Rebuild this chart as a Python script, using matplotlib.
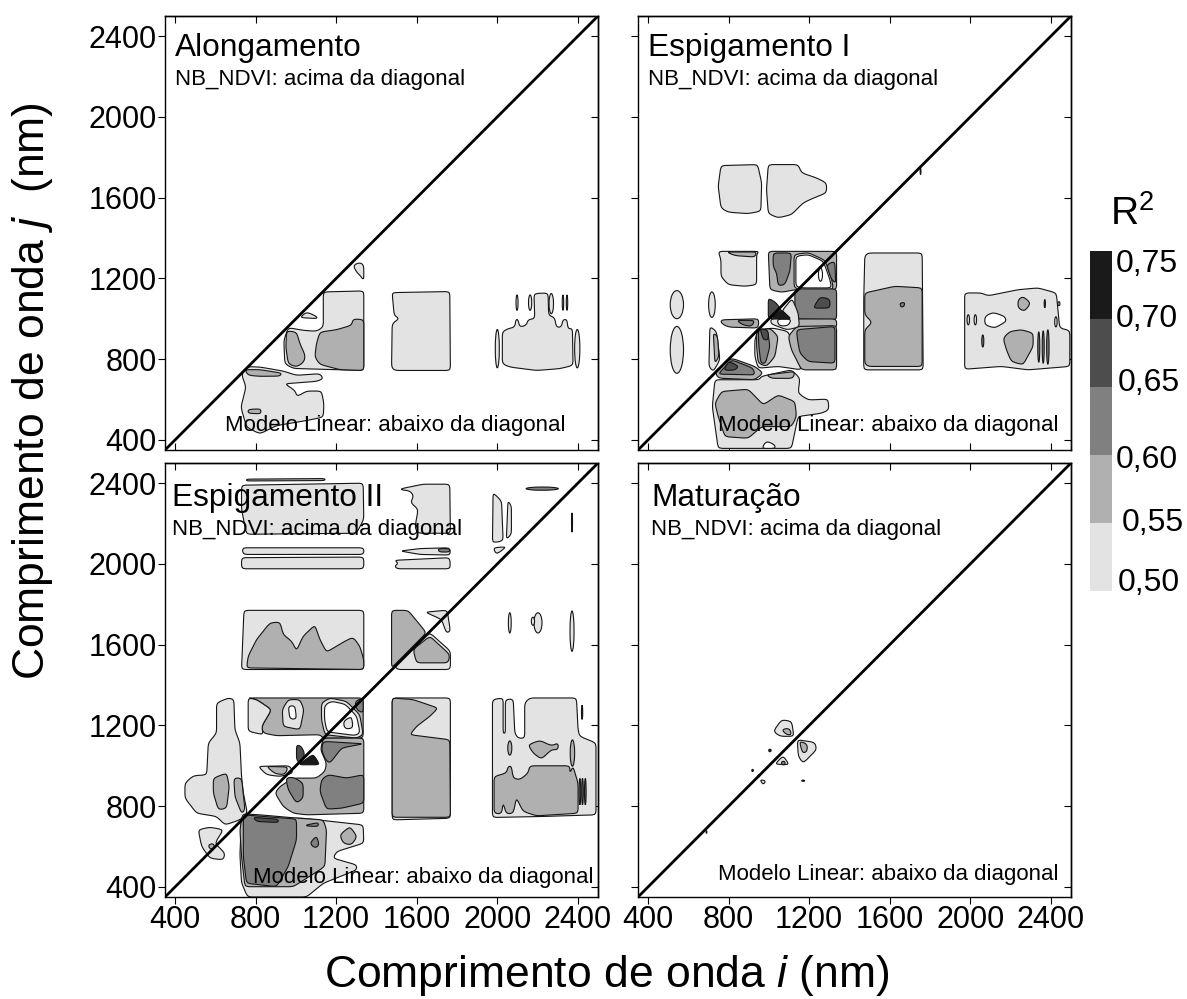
import matplotlib
matplotlib.use('Agg')
import matplotlib.pyplot as plt
from matplotlib.colors import BoundaryNorm, ListedColormap
from matplotlib.patches import Ellipse, Polygon

plt.rcParams['font.family'] = ['Liberation Sans', 'DejaVu Sans']
plt.rcParams['mathtext.fontset'] = 'custom'
plt.rcParams['mathtext.rm'] = 'Liberation Sans'
plt.rcParams['mathtext.it'] = 'Liberation Sans:italic'

W, H = 1187, 999

LEVELS = [0.50, 0.55, 0.60, 0.65, 0.70, 0.75]
LEVEL_COLORS = ['#e3e3e3', '#b0b0b0', '#808080', '#4d4d4d', '#1a1a1a']
WHITE = 0.45   # below the lowest level, holes inside the contours
TICKS = [400, 800, 1200, 1600, 2000, 2400]
TITLES = ['Alongamento', 'Espigamento I', 'Espigamento II', 'Maturação']

# contour outlines: (R2 level, [(i nm, j nm), ...]), painted in order
ALONG_SHAPES = [
    (0.50, [(1136, 1133), (1337, 1138), (1337, 744), (987, 754), (945, 777), (940, 893), (962, 956), (1036, 943), (1102, 938), (1136, 960)]),
    (0.55, [(1337, 996), (1284, 999), (1276, 968), (1202, 946), (1119, 934), (1102, 877), (1094, 811), (1119, 774), (1218, 748), (1337, 744)]),
    (0.55, [(954, 940), (950, 860), (962, 777), (1003, 761), (1040, 786), (1046, 819), (1020, 877), (1003, 934)]),
    (0.50, [(758, 763), (821, 761), (937, 741), (1003, 720), (1119, 728), (1136, 703), (1102, 690), (945, 678), (995, 645), (1006, 615), (1053, 642), (1127, 642), (1139, 579), (1136, 513), (1053, 496), (904, 471), (821, 430), (755, 463), (727, 562), (752, 662), (730, 725)]),
    (0.55, [(747, 748), (821, 748), (929, 731), (920, 716), (821, 715), (763, 720)]),
    (0.55, [(763, 551), (826, 554), (826, 529), (763, 532)]),
    (0.50, [(1020, 1006), (1053, 1034), (1102, 1012), (1105, 1001)]),
    (0.50, [(1284, 1265), (1317, 1279), (1337, 1265), (1337, 1191), (1317, 1216), (1301, 1232)]),
    (0.50, [(1478, 1125), (1491, 1130), (1764, 1135), (1767, 744), (1491, 744), (1475, 761), (1478, 976), (1513, 1001), (1488, 1017)]),
    (0.50, [(2025, 935), (2053, 951), (2087, 959), (2092, 996), (2103, 996), (2111, 959), (2144, 968), (2153, 996), (2186, 1001), (2182, 1125), (2252, 1128), (2255, 1017), (2285, 1006), (2293, 959), (2318, 959), (2326, 996), (2346, 996), (2351, 951), (2373, 951), (2376, 769), (2310, 753), (2194, 744), (2062, 761), (2025, 777)]),
]
ALONG_ELLIPSES = [
    (0.50, 2000, 852, 20, 190), (0.50, 2397, 852, 26, 190), (0.50, 2098, 1080, 10, 76),
    (0.50, 2163, 1080, 16, 76), (0.50, 2268, 1075, 22, 100), (0.50, 2326, 1080, 7, 76),
    (0.50, 2346, 1080, 7, 76),
]

ESPIG1_SHAPES = [
    (0.50, [(762, 1759), (944, 1764), (964, 1673), (960, 1533), (897, 1521), (798, 1528), (762, 1549), (748, 1657)]),
    (0.50, [(997, 1764), (1145, 1764), (1162, 1723), (1236, 1698), (1286, 1673), (1286, 1624), (1212, 1594), (1170, 1574), (1112, 1516), (1046, 1500), (997, 1521), (988, 1640)]),
    (0.50, [(748, 1334), (950, 1334), (939, 1318), (939, 1169), (881, 1161), (798, 1169), (762, 1210), (762, 1293)]),
    (0.55, [(790, 1331), (939, 1331), (930, 1306), (831, 1313)]),
    (0.55, [(997, 1334), (1336, 1334), (1336, 1144), (1129, 1144), (1063, 1131), (1005, 1144)]),
    (0.50, [(1125, 1318), (1195, 1328), (1278, 1290), (1312, 1194), (1320, 1145), (1155, 1145), (1125, 1155)]),
    (WHITE, [(1134, 1310), (1195, 1318), (1270, 1285), (1303, 1194), (1311, 1153), (1162, 1153), (1134, 1161)]),
    (0.60, [(1021, 1326), (1112, 1326), (1104, 1235), (1079, 1169), (1046, 1164), (1038, 1227), (1021, 1260)]),
    (0.60, [(1286, 1268), (1327, 1285), (1332, 1177), (1311, 1194)]),
    (0.60, [(1129, 1148), (1336, 1148), (1336, 995), (1129, 999)]),
    (0.65, [(1220, 1053), (1253, 1108), (1303, 1098), (1303, 1053)]),
    (0.50, [(947, 946), (1021, 954), (1096, 937), (1162, 747), (1046, 764), (947, 755), (930, 813), (930, 896)]),
    (0.55, [(1129, 999), (1336, 999), (1336, 954), (1145, 954)]),
    (0.55, [(1096, 913), (1137, 962), (1336, 966), (1336, 747), (1162, 747), (1112, 846)]),
    (0.60, [(1137, 946), (1328, 962), (1328, 780), (1195, 788), (1154, 830), (1142, 896)]),
    (0.55, [(939, 937), (1005, 954), (1046, 913), (1030, 813), (988, 764), (947, 780), (939, 863)]),
    (0.60, [(947, 946), (993, 946), (1005, 863), (983, 780), (960, 780), (950, 863)]),
    (0.65, [(955, 954), (997, 942), (997, 896), (972, 896)]),
    (0.50, [(1115, 1100), (1145, 1030), (1152, 960), (1090, 945), (1010, 975), (1010, 1000), (1112, 1000), (1063, 1037)]),
    (WHITE, [(1040, 998), (1112, 998), (1095, 965), (1050, 965)]),
    (0.65, [(997, 1103), (1038, 1078), (1063, 1037), (1112, 1000), (997, 1000)]),
    (0.70, [(1013, 1004), (1063, 1045), (1104, 1004)]),
    (0.55, [(765, 995), (950, 1000), (947, 954), (798, 959), (762, 979)]),
    (0.60, [(840, 992), (930, 992), (914, 962), (870, 970)]),
    (0.50, [(707, 962), (740, 937), (757, 797), (724, 739), (702, 764)]),
    (0.55, [(724, 929), (745, 913), (752, 813), (732, 780)]),
    (0.50, [(964, 715), (1112, 747), (1154, 706), (1145, 631), (1195, 598), (1294, 602), (1298, 549), (1261, 532), (1145, 516), (1112, 358), (748, 358), (719, 565), (732, 698), (950, 698)]),
    (0.55, [(815, 805), (930, 764), (972, 731), (930, 698), (748, 706), (732, 739)]),
    (0.60, [(815, 797), (922, 755), (930, 722), (748, 726)]),
    (0.65, [(800, 790), (850, 765), (830, 745), (775, 745)]),
    (0.55, [(988, 722), (1129, 739), (1120, 705), (1013, 705)]),
    (0.55, [(732, 582), (765, 640), (897, 651), (972, 574), (1046, 623), (1129, 590), (1137, 516), (1112, 466), (964, 466), (897, 408), (782, 416), (748, 516)]),
    (WHITE, [(964, 358), (988, 395), (1030, 375), (1030, 358)]),
    (0.50, [(1476, 1310), (1493, 1326), (1761, 1326), (1766, 747), (1471, 747), (1471, 1100)]),
    (0.55, [(1476, 1128), (1625, 1161), (1761, 1153), (1761, 764), (1493, 764), (1476, 780), (1476, 946), (1513, 982), (1476, 1020)]),
    (0.60, [(1650, 1078), (1675, 1081), (1671, 1061), (1655, 1058)]),
    (0.50, [(1972, 1128), (2055, 1128), (2088, 1114), (2237, 1144), (2336, 1153), (2427, 1128), (2444, 954), (2494, 942), (2494, 764), (2287, 747), (2154, 764), (1972, 750)]),
    (0.55, [(2163, 904), (2196, 937), (2254, 946), (2312, 929), (2312, 863), (2262, 772), (2204, 788), (2179, 847)]),
    (0.55, [(2237, 1094), (2262, 1111), (2300, 1078), (2270, 1037), (2237, 1053)]),
    (WHITE, [(2072, 1012), (2113, 1032), (2171, 1012), (2179, 987), (2121, 954), (2072, 970)]),
]
ESPIG1_ELLIPSES = [
    (0.50, 543, 1070, 66, 139), (0.50, 543, 846, 66, 232), (0.50, 717, 1070, 33, 126),
    (WHITE, 1256, 1219, 20, 66), (0.50, 1990, 995, 12, 50), (0.50, 2025, 995, 12, 50),
    (0.60, 2062, 890, 10, 60), (0.60, 2340, 860, 10, 150), (0.60, 2362, 860, 10, 160),
    (0.60, 2385, 860, 12, 170), (0.60, 2370, 1075, 6, 40), (0.50, 2440, 1075, 10, 20),
    (0.50, 2425, 985, 12, 50), (0.70, 1753, 1730, 4, 30),
]

ESPIG2_SHAPES = [
    (0.50, [(730, 2390), (1334, 2400), (1337, 2221), (1301, 2152), (755, 2147), (730, 2271)]),
    (0.55, [(755, 2420), (1144, 2423), (1144, 2413), (755, 2411)]),
    (0.50, [(734, 2080), (1337, 2080), (1337, 2047), (738, 2047)]),
    (0.50, [(730, 2031), (1337, 2034), (1337, 1976), (730, 1976)]),
    (0.50, [(1524, 2373), (1632, 2395), (1764, 2395), (1767, 2152), (1607, 2152), (1591, 2180), (1607, 2271), (1569, 2304), (1585, 2337), (1566, 2362), (1524, 2367)]),
    (0.50, [(1519, 2064), (1615, 2076), (1764, 2080), (1767, 2044), (1615, 2047)]),
    (0.60, [(1706, 2076), (1764, 2076), (1764, 2059), (1711, 2059)]),
    (0.50, [(1491, 2018), (1764, 2031), (1767, 1976), (1503, 1976), (1491, 1989), (1508, 2003)]),
    (0.50, [(742, 1770), (1337, 1770), (1337, 1477), (730, 1477)]),
    (0.55, [(755, 1485), (763, 1543), (805, 1626), (871, 1708), (921, 1712), (937, 1650), (979, 1617), (1003, 1571), (1036, 1642), (1094, 1697), (1119, 1626), (1152, 1563), (1243, 1617), (1284, 1637), (1317, 1593), (1337, 1526), (1337, 1477)]),
    (0.50, [(1475, 1543), (1582, 1592), (1665, 1659), (1767, 1568), (1767, 1477), (1499, 1477)]),
    (0.55, [(1475, 1770), (1557, 1770), (1648, 1659), (1475, 1485)]),
    (0.55, [(1582, 1576), (1665, 1642), (1764, 1551), (1756, 1510), (1599, 1510)]),
    (0.50, [(1643, 1761), (1751, 1771), (1767, 1667), (1747, 1659), (1723, 1725)]),
    (0.50, [(1979, 2353), (2021, 2312), (2029, 2114), (1976, 2105)]),
    (0.50, [(2053, 2312), (2070, 2287), (2070, 2147), (2045, 2122)]),
    (0.50, [(1979, 2080), (2045, 2085), (1996, 2047)]),
    # lower half
    (0.50, [(664, 1336), (692, 1328), (697, 1179), (722, 1113), (730, 947), (739, 865), (759, 765), (722, 732), (648, 707), (606, 749), (507, 765), (449, 840), (449, 914), (491, 951), (557, 955), (565, 1113), (606, 1162), (606, 1311)]),
    (0.55, [(590, 939), (656, 964), (669, 898), (656, 790), (615, 782), (590, 865)]),
    (0.55, [(692, 939), (730, 939), (747, 782), (730, 765), (697, 848)]),
    (0.55, [(759, 1336), (1334, 1336), (1334, 1137), (1136, 1137), (1119, 1154), (904, 1149), (838, 1162), (830, 1195), (879, 1278), (805, 1328)]),
    (0.50, [(763, 1336), (805, 1328), (879, 1278), (830, 1195), (838, 1154), (763, 1171)]),
    (0.50, [(932, 1278), (962, 1328), (1020, 1328), (1040, 1278), (1020, 1179), (937, 1195)]),
    (WHITE, [(962, 1295), (995, 1298), (1003, 1232), (970, 1232)]),
    (0.50, [(1127, 1311), (1169, 1336), (1251, 1319), (1317, 1253), (1334, 1154), (1301, 1137), (1144, 1154), (1127, 1228)]),
    (WHITE, [(1142, 1298), (1175, 1320), (1245, 1305), (1302, 1245), (1318, 1165), (1295, 1150), (1155, 1168), (1142, 1228)]),
    (0.50, [(1235, 1220), (1276, 1245), (1284, 1187), (1243, 1182)]),
    (0.60, [(1293, 1319), (1334, 1336), (1334, 1261), (1301, 1278)]),
    (0.55, [(1136, 1137), (1337, 1137), (1337, 765), (1053, 757), (987, 765), (937, 798), (896, 865), (921, 898), (987, 939), (1102, 939), (1144, 972), (1152, 1013), (1122, 1080)]),
    (0.60, [(1136, 1121), (1334, 1109), (1227, 1088), (1169, 1013), (1147, 1030), (1127, 1080)]),
    (0.60, [(1127, 931), (1160, 956), (1251, 939), (1337, 956), (1337, 815), (1227, 790), (1152, 785), (1119, 873)]),
    (0.60, [(950, 939), (987, 944), (1036, 914), (1036, 840), (1003, 815), (962, 881)]),
    (0.65, [(1003, 1104), (1028, 1096), (1045, 1055), (1020, 1013), (1003, 1030)]),
    (0.70, [(1012, 1005), (1086, 1058), (1119, 1005)]),
    (0.50, [(813, 997), (970, 1000), (987, 964), (921, 947), (854, 956)]),
    (0.55, [(854, 997), (962, 994), (945, 956), (896, 961)]),
    (0.50, [(1036, 740), (1334, 707), (1337, 617), (1202, 575), (1185, 542), (1301, 509), (1301, 484), (1136, 418), (1053, 350), (760, 350), (730, 420), (722, 560), (730, 745)]),
    (0.55, [(735, 762), (821, 757), (1003, 741), (1136, 732), (1152, 683), (1144, 501), (1053, 443), (987, 401), (747, 401), (730, 550), (722, 683)]),
    (0.55, [(1218, 658), (1268, 699), (1304, 650), (1276, 608), (1235, 616)]),
    (0.60, [(1069, 616), (1102, 653), (1116, 608), (1094, 592)]),
    (0.60, [(1053, 707), (1111, 719), (1111, 699), (1053, 702)]),
    (0.60, [(739, 757), (1003, 736), (1003, 633), (962, 501), (904, 401), (755, 418), (739, 550)]),
    (0.65, [(788, 745), (912, 735), (912, 719), (805, 724)]),
    (0.50, [(515, 683), (573, 696), (639, 683), (598, 616), (648, 567), (639, 534), (573, 542), (532, 600)]),
    (0.55, [(565, 608), (590, 616), (598, 592), (573, 587)]),
    (0.50, [(1478, 1336), (1767, 1336), (1767, 740), (1478, 732)]),
    (0.55, [(1478, 1336), (1582, 1328), (1706, 1286), (1665, 1245), (1599, 1195), (1566, 1154), (1764, 1129), (1767, 745), (1478, 745)]),
    (0.50, [(1976, 1328), (2029, 1336), (2029, 1162), (2040, 1162), (2040, 1328), (2079, 1331), (2087, 1162), (2103, 1137), (2136, 1137), (2136, 1311), (2161, 1336), (2393, 1336), (2401, 1179), (2409, 1146), (2490, 1113), (2490, 757), (2227, 749), (1976, 744)]),
    (0.55, [(1984, 947), (2045, 964), (2054, 997), (2070, 997), (2079, 939), (2112, 931), (2153, 964), (2161, 1000), (2360, 1000), (2360, 964), (2376, 997), (2401, 914), (2401, 765), (2194, 752), (2128, 774), (2095, 840), (2079, 765), (2045, 762), (2029, 815), (2021, 762), (1984, 765)]),
    (0.55, [(2153, 1104), (2211, 1126), (2269, 1099), (2302, 1113), (2302, 1080), (2269, 1080), (2219, 1033), (2178, 1063)]),
]
ESPIG2_ELLIPSES = [
    (0.60, 2223, 2373, 160, 16), (0.50, 2371, 2205, 5, 95), (0.50, 2062, 1708, 14, 100),
    (0.50, 2202, 1708, 40, 100), (0.50, 2177, 1716, 16, 40), (0.50, 2371, 1667, 20, 200),
    (0.55, 2062, 1088, 20, 70), (0.55, 2373, 1063, 22, 130), (0.70, 2421, 1265, 6, 70),
    (0.60, 2410, 872, 8, 130), (0.60, 2423, 872, 8, 130), (0.60, 2437, 872, 8, 130),
]

MATUR_SHAPES = [
    (0.50, [(1022, 1171), (1063, 1228), (1113, 1220), (1124, 1146), (1055, 1146)]),
    (0.55, [(1063, 1179), (1101, 1187), (1113, 1154), (1088, 1154)]),
    (0.50, [(1141, 1129), (1228, 1116), (1237, 1080), (1170, 1013), (1146, 1047)]),
    (0.55, [(1151, 1121), (1190, 1109), (1190, 1071), (1167, 1063)]),
    (0.50, [(1030, 1008), (1071, 1050), (1101, 1005)]),
    (0.60, [(1063, 1022), (1080, 1022), (1080, 1005), (1063, 1005)]),
    (0.50, [(955, 931), (985, 926), (972, 906)]),
]
MATUR_ELLIPSES = [
    (0.70, 1005, 1076, 12, 12), (0.70, 919, 977, 8, 10), (0.70, 1170, 926, 14, 6),
    (0.70, 950, 950, 8, 10), (0.70, 690, 672, 4, 12),
]

PANEL_SHAPES = [ALONG_SHAPES, ESPIG1_SHAPES, ESPIG2_SHAPES, MATUR_SHAPES]
PANEL_ELLIPSES = [ALONG_ELLIPSES, ESPIG1_ELLIPSES, ESPIG2_ELLIPSES, MATUR_ELLIPSES]

cmap = ListedColormap(LEVEL_COLORS)
cmap.set_under('white')
norm = BoundaryNorm(LEVELS, cmap.N)


def smooth(pts, passes=2, cut=10.0):
    # corner cutting, capped so the long straight block edges stay straight
    for _ in range(passes):
        new = []
        for k, (x0, y0) in enumerate(pts):
            x1, y1 = pts[(k + 1) % len(pts)]
            length = max(((x1 - x0) ** 2 + (y1 - y0) ** 2) ** 0.5, 1e-6)
            t = min(0.25, cut / length)
            new.append((x0 + t * (x1 - x0), y0 + t * (y1 - y0)))
            new.append((x1 - t * (x1 - x0), y1 - t * (y1 - y0)))
        pts = new
    return pts


def px_axes(left, top, right, bottom):
    return [left / W, 1 - bottom / H, (right - left) / W, (bottom - top) / H]


fig = plt.figure(figsize=(W / 100, H / 100), dpi=100)
boxes = [(165, 16, 598, 450), (638, 16, 1071, 450), (165, 463, 598, 897), (638, 463, 1071, 897)]
# title x, title baseline, sub baseline, bottom text x, bottom text baseline, in px
text_pos = [(175, 56, 85, 225, 431), (648, 56, 85, 718, 431), (172, 506, 535, 253, 883), (651, 506, 535, 718, 880)]

for n, box in enumerate(boxes):
    ax = fig.add_axes(px_axes(*box))
    ax.set_xlim(350, 2500)
    ax.set_ylim(350, 2500)
    for level, pts in PANEL_SHAPES[n]:
        ax.add_patch(Polygon(smooth(pts), closed=True, facecolor=cmap(norm(level)),
                             edgecolor='#151515', linewidth=0.8, zorder=2))
    for level, cx, cy, w, h in PANEL_ELLIPSES[n]:
        ax.add_patch(Ellipse((cx, cy), w, h, facecolor=cmap(norm(level)),
                             edgecolor='#151515', linewidth=0.8, zorder=2))
    ax.plot([350, 2500], [350, 2500], color='black', linewidth=2.0, zorder=3)

    ax.set_xticks(TICKS)
    ax.set_yticks(TICKS)
    ax.tick_params(axis='y', direction='out', length=5, width=0.8, labelsize=22, pad=1, labelleft=n in (0, 2))
    ax.tick_params(axis='x', direction='out' if n >= 2 else 'in', length=5, width=0.8, labelsize=22, pad=1,
                   labelbottom=n >= 2)
    right = ax.secondary_yaxis('right')
    right.set_yticks(TICKS)
    right.tick_params(direction='in', length=5, width=0.8, labelright=False)
    top = ax.secondary_xaxis('top')
    top.set_xticks(TICKS)
    top.tick_params(direction='in', length=5, width=0.8, labeltop=False)
    for sax in [ax, right, top]:
        for s in sax.spines.values():
            s.set_linewidth(1.0)

    tx, ty, sy, bx, by = text_pos[n]
    fig.text(tx / W, 1 - ty / H, TITLES[n], fontsize=22.8, zorder=5)
    fig.text(tx / W, 1 - sy / H, 'NB_NDVI: acima da diagonal', fontsize=16, zorder=5)
    fig.text(bx / W, 1 - by / H, 'Modelo Linear: abaixo da diagonal', fontsize=16, zorder=5)

# legend strip
cax = fig.add_axes(px_axes(1090, 251, 1112, 591))
for k, c in enumerate(LEVEL_COLORS):
    cax.bar(0, LEVELS[k + 1] - LEVELS[k], bottom=LEVELS[k], width=1, color=c)
cax.set_xlim(-0.5, 0.5)
cax.set_ylim(LEVELS[0], LEVELS[-1])
cax.axis('off')

for lab, lx, ly in [('0,75', 1116, 264), ('0,70', 1116, 319), ('0,65', 1118, 383),
                    ('0,60', 1116, 460), ('0,55', 1122, 523), ('0,50', 1118, 583)]:
    fig.text(lx / W, 1 - ly / H, lab, fontsize=23, va='center')
fig.text(1110 / W, 1 - 225 / H, 'R$^2$', fontsize=28)

fig.text(33 / W, 1 - 391 / H, 'Comprimento de onda $\\mathit{j}$  (nm)', fontsize=32,
         rotation=90, ha='center', va='center')
fig.text(607 / W, 1 - 975 / H, 'Comprimento de onda $\\mathit{i}$ (nm)', fontsize=32,
         ha='center', va='center')

fig.savefig('out.png', dpi=100)
